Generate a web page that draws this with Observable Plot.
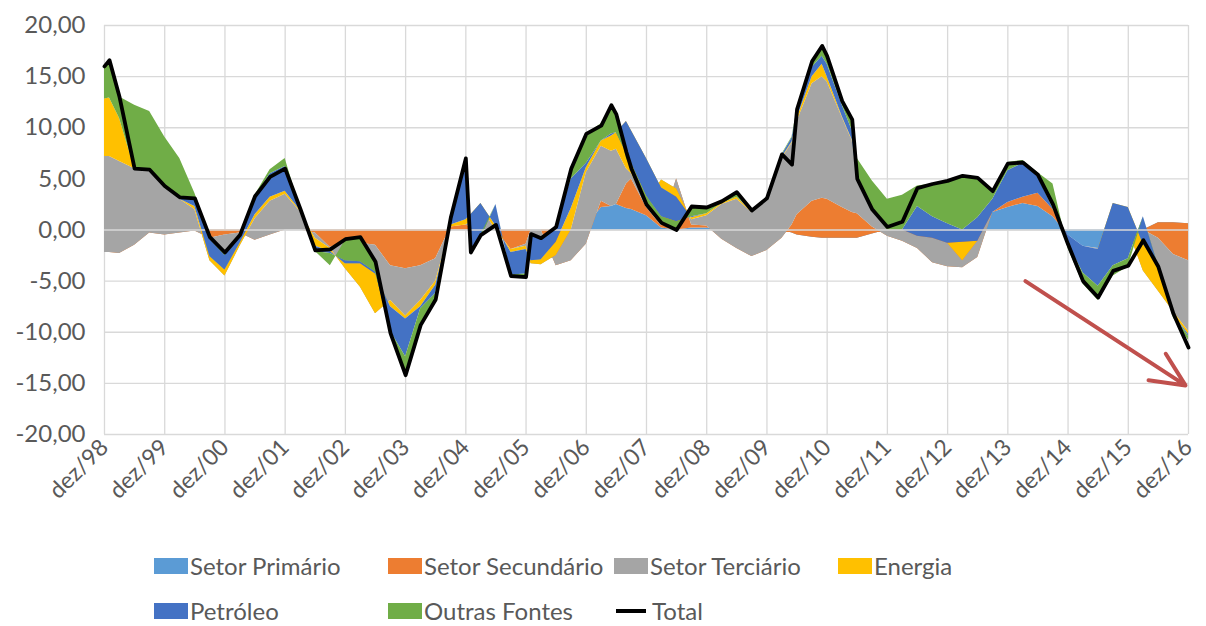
<!DOCTYPE html>
<html><head><meta charset="utf-8">
<script src="https://cdn.jsdelivr.net/npm/d3@7"></script>
<script src="https://cdn.jsdelivr.net/npm/@observablehq/plot@0.6"></script>
<style>
body{margin:0;background:#fff;font-family:Lato,"Open Sans",sans-serif;}
#wrap{position:relative;width:1206px;height:626px;overflow:hidden;background:#fff;}
#legend{position:absolute;left:0;top:0;width:1206px;height:626px;pointer-events:none;}
.sw{position:absolute;width:34px;height:16px;}
.ln{position:absolute;width:30px;height:4px;background:#000;}
.lt{position:absolute;font-size:24px;color:#595959;line-height:24px;white-space:nowrap;}
</style></head>
<body><div id="wrap"><div id="chart"></div><div id="legend"></div></div>
<script>
// months since dez/98
const months = [0,1,3,6,9,12,15,18,21,24, 27,30,33,36,39,42,45,48,51,54, 57,60,63,66,69,72,73,75,78,81, 84,85,87,90,93,96,99,101,102,104, 105,108,111,114,117,120,123,126,129,132, 135,137,138,141,143,144,147,149,150,153, 156,159,162,165,168,171,174,177,180,183, 186,189,192,195,198,201,204,207,210,213, 216];

const setorPrimario = [0,0,0,0,0,0,0,0,0,0, 0,0,0,0,0,0,0,0,0,0, 0,0,0,0,0,0,0,0,0,0, 0,0,0,0,0,0.3,2.2,2.3,2.5,2.1, 2.0,1.4,0.2,0,0.2,0.2,0,0,0,0, 0,-0.3,-0.5,-0.7,-0.8,-0.8,-0.8,-0.8,-0.8,-0.4, 0,0,0,0,0,0,0,1.7,2.2,2.6, 2.3,1.3,-0.5,-1.6,-1.8,-0.3,0,0,0.7,0.7, 0.6];

const setorSecundario = [-2.2,-2.2,-2.3,-1.5,-0.3,-0.5,-0.3,-0.1,-0.8,-0.5, -0.3,-1.0,-0.5,0,0,-0.3,-1.7,-1.1,-1.3,-1.5, -3.5,-3.8,-3.5,-2.8,0.3,0.5,0.3,0,0,-1.9, -1.4,0,0,-3.5,-3.0,-1.7,0.6,0,0,2.4, 3.0,0.8,0.2,5.0,0.3,0.2,-0.9,-1.8,-2.6,-2.0, -0.8,0.8,2.0,3.5,3.9,3.8,3.0,2.5,2.4,0.7, -0.6,-1.1,-1.8,-3.2,-3.6,-3.7,-2.7,0,0.5,0.6, 1.3,0.7,0,0,0,0.5,0,0,-1.5,-3.1, -3.6];

const setorTerciario = [9.4,9.4,9.0,7.5,6.2,4.8,3.3,2.1,-2.2,-4.0, -1.3,2.1,3.3,3.5,1.8,-0.5,-0.1,-2.7,-4.3,-6.7, -3.4,-4.6,-3.4,-2.2,0,0,0.5,2.2,0,0, -0.2,-3.3,-3.4,1.0,3.0,7.0,5.4,5.4,5.4,1.5, 0.5,0.5,4.5,-1.0,0.5,1.0,3.4,4.8,4.3,5.0, 7.8,8.0,9.1,11.5,11.9,11.5,8.8,7.0,3.2,1.7, 0.6,1.1,1.2,2.4,2.3,0.7,1.6,0,0,0, 0,0,0,0,-0.1,1.1,0,-4.0,-5.2,-5.6, -6.9];

const energia = [5.6,5.7,4.2,0,0,0,0,0.3,0.4,0.6, 0.3,0.4,0.4,0.3,0.1,-0.8,-0.3,0.5,2.3,3.9, -0.6,-0.3,-0.6,-0.4,0.2,0.5,0.7,0.4,0.4,-0.3, -0.3,0.3,0.5,1.3,2.1,0.5,0.5,1.5,1.6,4.6, 4.2,4.3,-0.8,-0.8,0.2,0.2,0.1,0.2,0.1,0.1, 0.1,0.1,0.3,0.7,1.2,0.5,0.1,0.1,0,0, 0,0,0,0,0,1.8,0,0,0,0, 0,0,0,0,0,1.3,2.2,2.6,2.5,-0.3, -0.3];

const petroleo = [0,0,0,0,0,0,0,0.7,1.7,1.4, 0.7,1.7,2.3,2.4,0.1,-0.5,-0.2,0.3,0.2,0.2, -2.4,-3.7,-0.2,-0.8,0.6,5.5,-3.4,-3.4,2.1,-2.2, -2.4,2.5,2.1,1.5,2.9,0.4,0,0.2,0,-3.1, -3.2,-3.7,-2.8,-2.4,0.1,0,0,0,0.1,0.1, 0.2,0.4,0.6,0.9,0.8,1.2,1.1,0.9,0.1,0, 0,0,2.9,2.1,1.9,1.2,2.3,1.3,3.1,3.3, 1.6,0.1,-0.8,-2.6,-3.6,-6.1,-5.0,2.7,0,0, -0.2];

const outrasFontes = [3.2,3.7,2.1,6.2,5.7,4.8,4.0,0.6,0.4,0.3, 0.1,0.2,0.4,0.8,0.1,0,-1.2,2.0,2.4,1.0, -0.2,-1.8,-1.5,-0.7,0.1,0.5,-0.3,0.3,0,-0.1, -0.2,0,0,0,1.0,2.9,1.7,2.8,1.8,-0.5, -0.5,-0.7,-0.6,-0.8,1.0,0.6,0.2,0.5,0,-0.1, 0.1,0.1,0.3,0.7,1.0,0.8,0.6,1.1,2.1,2.8, 3.0,3.4,2.0,3.2,4.2,5.3,3.9,0.8,0.8,0.3, 0.4,2.4,-0.5,-1.1,-1.4,-1.0,-0.8,0,-0.1,-0.3, -0.4];

const total = [16.0,16.6,13.0,6.0,5.9,4.3,3.2,3.1,-0.7,-2.2, -0.5,3.3,5.2,6.0,2.1,-2.0,-1.9,-0.9,-0.7,-3.1, -10.1,-14.2,-9.3,-6.8,1.2,7.0,-2.2,-0.5,0.5,-4.5, -4.6,-0.4,-0.8,0.3,6.0,9.4,10.2,12.2,11.3,7.6, 6.0,2.5,0.7,0.0,2.3,2.2,2.8,3.7,1.9,3.1, 7.4,6.4,11.8,16.5,18.0,17.0,12.6,10.8,5.0,2.0, 0.3,0.8,4.1,4.5,4.8,5.3,5.1,3.8,6.5,6.6, 5.4,2.5,-1.4,-5.0,-6.6,-4.0,-3.5,-1.0,-3.6,-8.2, -11.5];

const seriesNames = ["Setor Primário","Setor Secundário","Setor Terciário","Energia","Petróleo","Outras Fontes"];
const seriesColors = ["#5B9BD5","#ED7D31","#A5A5A5","#FFC000","#4472C4","#70AD47"];
const seriesValues = [setorPrimario, setorSecundario, setorTerciario, energia, petroleo, outrasFontes];

const xTicks = [0,12,24,36,48,60,72,84,96,108,120,132,144,156,168,180,192,204,216];
const xTickLabels = ["dez/98","dez/99","dez/00","dez/01","dez/02","dez/03","dez/04","dez/05","dez/06","dez/07","dez/08","dez/09","dez/10","dez/11","dez/12","dez/13","dez/14","dez/15","dez/16"];
const yTicks = [-20,-15,-10,-5,0,5,10,15,20];

const trendArrow = [{m1:183.5, v1:-5.0, m2:215.4, v2:-15.2}];

// Excel-style cumulative stacking (series stacked in order, later series drawn on top)
const rows = months.map((m, i) => {
  const c = [0];
  seriesValues.forEach(s => c.push(c[c.length - 1] + s[i]));
  return {m, c, total: total[i]};
});

const chart = Plot.plot({
  width: 1206,
  height: 520,
  marginLeft: 104,
  marginRight: 18,
  marginTop: 25,
  marginBottom: 86,
  x: {domain: [0, 216]},
  y: {domain: [-20, 20]},
  style: {fontFamily: "Lato, 'Open Sans', sans-serif", color: "#595959", background: "white"},
  marks: [
    Plot.ruleY(yTicks, {stroke: "#D9D9D9", strokeWidth: 1.3}),
    Plot.ruleX(xTicks, {stroke: "#D9D9D9", strokeWidth: 1.3}),
    ...seriesValues.map((s, j) => Plot.areaY(rows, {
      x: "m", y1: d => d.c[j], y2: d => d.c[j + 1], fill: seriesColors[j], curve: "linear"
    })),
    Plot.ruleY([0], {stroke: "#D9D9D9", strokeWidth: 1.5}),
    Plot.line(rows, {x: "m", y: "total", stroke: "#000", strokeWidth: 3.8, strokeLinejoin: "round"}),
    Plot.arrow(trendArrow, {x1: "m1", y1: "v1", x2: "m2", y2: "v2", stroke: "#C0504D", strokeWidth: 4, headLength: 14, headAngle: 50}),
    Plot.axisY({ticks: yTicks, tickSize: 0, tickPadding: 19, fontSize: 24, fill: "#595959",
      tickFormat: d => d.toFixed(2).replace(".", ",")}),
    Plot.axisX({ticks: xTicks, tickSize: 0, tickPadding: 9, tickRotate: -45, fontSize: 23, fill: "#595959",
      tickFormat: d => xTickLabels[Math.round(d / 12)]})
  ]
});
document.getElementById("chart").appendChild(chart);

// legend
const legendItems = [
  {name: seriesNames[0], color: seriesColors[0], x: 154, y: 566},
  {name: seriesNames[1], color: seriesColors[1], x: 388, y: 566},
  {name: seriesNames[2], color: seriesColors[2], x: 614, y: 566},
  {name: seriesNames[3], color: seriesColors[3], x: 838, y: 566},
  {name: seriesNames[4], color: seriesColors[4], x: 154, y: 611},
  {name: seriesNames[5], color: seriesColors[5], x: 388, y: 611},
  {name: "Total", color: "#000", x: 616, y: 611, line: true}
];
const leg = document.getElementById("legend");
legendItems.forEach(it => {
  const sw = document.createElement("div");
  if (it.line) {
    sw.className = "ln";
    sw.style.left = it.x + "px";
    sw.style.top = (it.y - 2) + "px";
  } else {
    sw.className = "sw";
    sw.style.left = it.x + "px";
    sw.style.top = (it.y - 8) + "px";
    sw.style.background = it.color;
  }
  leg.appendChild(sw);
  const t = document.createElement("div");
  t.className = "lt";
  t.textContent = it.name;
  t.style.left = (it.x + 36) + "px";
  t.style.top = (it.y - 12) + "px";
  leg.appendChild(t);
});
</script></body></html>
